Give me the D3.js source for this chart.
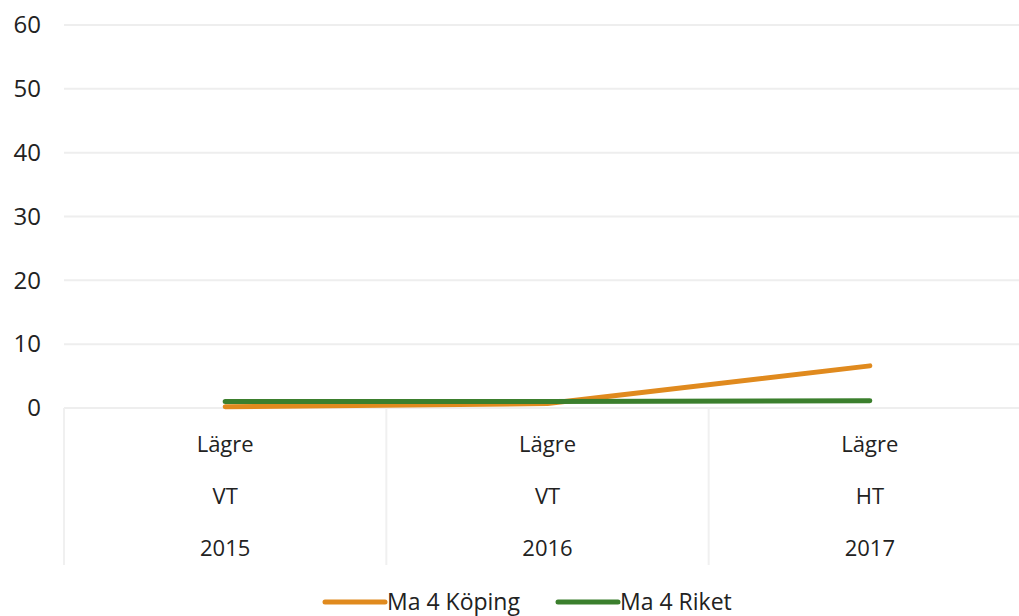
<!DOCTYPE html>
<html>
<head>
<meta charset="utf-8">
<script src="https://cdn.jsdelivr.net/npm/d3@7"></script>
<style>
  body { margin: 0; background: #fff; }
  svg { font-family: "Open Sans", Lato, sans-serif; }
</style>
</head>
<body>
<div id="app"></div>
<script>
// data
const categories = [["Lägre", "VT", "2015"], ["Lägre", "VT", "2016"], ["Lägre", "HT", "2017"]];
const koping = [0.2, 0.7, 6.6];
const riket = [1.0, 1.0, 1.15];
const yTicks = [0, 10, 20, 30, 40, 50, 60];
const seriesNames = ["Ma 4 Köping", "Ma 4 Riket"];

const w = 1019;
const h = 616;
const colors = ["#E08A1E", "#3B7F2D"];

const svg = d3.select("#app").append("svg").attr("width", w).attr("height", h);

const x = d3.scaleBand().domain(d3.range(categories.length)).range([64, 1031]);
const y = d3.scaleLinear().domain([0, 60]).range([408, 25]);

// gridlines
svg.append("g")
  .selectAll("line")
  .data(yTicks)
  .join("line")
  .attr("x1", 64)
  .attr("x2", w)
  .attr("y1", (d) => y(d))
  .attr("y2", (d) => y(d))
  .attr("stroke", "#eeeeee")
  .attr("stroke-width", 2);

// y axis labels
const yAxis = svg.append("g")
  .attr("transform", "translate(41,0)")
  .call(d3.axisLeft(y).tickValues(yTicks).tickSize(0).tickPadding(0));
yAxis.select(".domain").remove();
yAxis.selectAll("text")
  .attr("font-size", 24)
  .attr("font-family", "'Open Sans', Lato, sans-serif")
  .attr("fill", "#222");

// category separators
svg.append("g")
  .selectAll("line")
  .data(d3.range(categories.length + 1))
  .join("line")
  .attr("x1", (i) => 64 + i * x.bandwidth())
  .attr("x2", (i) => 64 + i * x.bandwidth())
  .attr("y1", y(0))
  .attr("y2", 565)
  .attr("stroke", "#f0f0f0")
  .attr("stroke-width", 2);

// category labels
const lab = svg.append("g")
  .selectAll("g")
  .data(categories)
  .join("g")
  .attr("transform", (d, i) => `translate(${x(i) + x.bandwidth() / 2},0)`);
lab.selectAll("text")
  .data((d) => d)
  .join("text")
  .attr("y", (d, j) => 452 + j * 52)
  .attr("text-anchor", "middle")
  .attr("font-size", 22)
  .attr("fill", "#222")
  .text((d) => d);

// lines
const line = d3.line()
  .x((d, i) => x(i) + x.bandwidth() / 2)
  .y((d) => y(d));

[koping, riket].forEach((s, k) => {
  svg.append("path")
    .datum(s)
    .attr("d", line)
    .attr("fill", "none")
    .attr("stroke", colors[k])
    .attr("stroke-width", 5)
    .attr("stroke-linecap", "round")
    .attr("stroke-linejoin", "round");
});

// legend
const legendX = [325, 558];
const leg = svg.append("g")
  .selectAll("g")
  .data(seriesNames)
  .join("g")
  .attr("transform", (d, i) => `translate(${legendX[i]},602)`);
leg.append("line")
  .attr("x1", 0)
  .attr("x2", 60)
  .attr("stroke", (d, i) => colors[i])
  .attr("stroke-width", 5)
  .attr("stroke-linecap", "round");
leg.append("text")
  .attr("x", 62)
  .attr("y", 8)
  .attr("font-size", 23)
  .attr("fill", "#222")
  .text((d) => d);
</script>
</body>
</html>
